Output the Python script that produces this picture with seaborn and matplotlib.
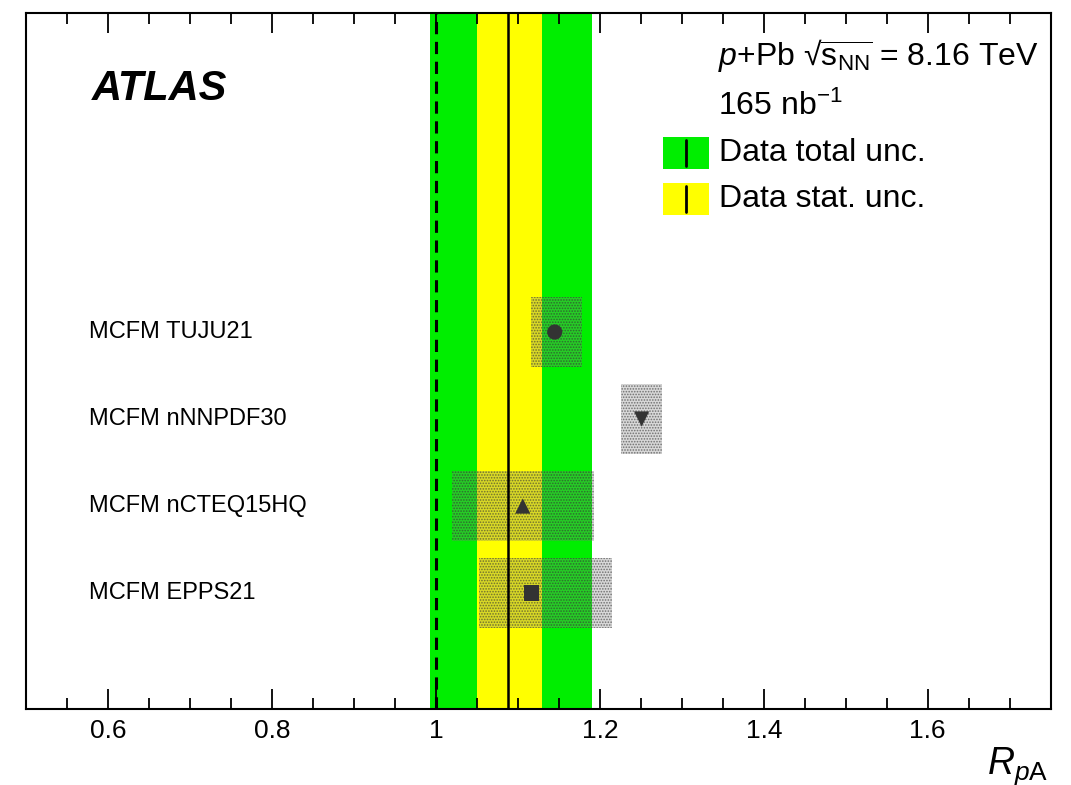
import matplotlib
matplotlib.use("Agg")
import matplotlib.pyplot as plt
from matplotlib.patches import Rectangle
from matplotlib.ticker import MultipleLocator, FixedLocator, FixedFormatter
import seaborn as sns
import pandas as pd

# ---- data ----
models = ["MCFM TUJU21", "MCFM nNNPDF30", "MCFM nCTEQ15HQ", "MCFM EPPS21"]
model_values = [1.145, 1.251, 1.106, 1.117]
model_low = [1.116, 1.226, 1.0195, 1.052]
model_high = [1.178, 1.276, 1.193, 1.215]
model_markers = ["o", "v", "^", "s"]
row_pos = [4, 3, 2, 1]

data_value = 1.088
data_stat = [1.050, 1.129]
data_total = [0.993, 1.191]
reference_value = 1.0

xtick_values = [0.6, 0.8, 1.0, 1.2, 1.4, 1.6]
xtick_labels = ["0.6", "0.8", "1", "1.2", "1.4", "1.6"]

# ---- style ----
sns.set_style("ticks")
plt.rcParams["font.family"] = ["Liberation Sans", "DejaVu Sans"]
plt.rcParams["mathtext.fontset"] = "custom"
plt.rcParams["mathtext.rm"] = "Liberation Sans"
plt.rcParams["mathtext.it"] = "Liberation Sans:italic"
plt.rcParams["mathtext.bf"] = "Liberation Sans:bold"
plt.rcParams["hatch.linewidth"] = 0.8
plt.rcParams["text.color"] = "black"
plt.rcParams["xtick.color"] = "black"
plt.rcParams["xtick.labelcolor"] = "black"

fig = plt.figure(figsize=(10.71, 7.85), dpi=100)
ax = fig.add_axes([0.0243, 0.0968, 0.9567, 0.8866])

GREEN = "#00ee00"
YELLOW = "#ffff00"

ax.axvspan(data_total[0], data_total[1], color=GREEN, lw=0, zorder=0)
ax.axvspan(data_stat[0], data_stat[1], color=YELLOW, lw=0, zorder=0.5)

# theory boxes
for lo, hi, y in zip(model_low, model_high, row_pos):
    ax.add_patch(Rectangle((lo, y - 0.4), hi - lo, 0.8,
                           facecolor=(0.5, 0.5, 0.5, 0.3),
                           edgecolor=(0.2, 0.2, 0.2, 0.6),
                           hatch="......", lw=0, zorder=2))

ax.axvline(data_value, color="black", lw=1.8, zorder=3)
ax.axvline(reference_value, color="black", lw=2.2, ls=(0, (4, 2.5)), zorder=3)

df = pd.DataFrame({"model": models, "value": model_values, "y": row_pos})
sns.scatterplot(data=df, x="value", y="y", style="model",
                markers=dict(zip(models, model_markers)),
                color="#333333", s=120, linewidth=0, legend=False,
                zorder=4, ax=ax)

for name, y in zip(models, row_pos):
    ax.text(0.0615, y, name, transform=ax.get_yaxis_transform(),
            ha="left", va="center", fontsize=17, color="black")

ax.set_xlim(0.5, 1.75)
ax.set_ylim(-1 / 3, 23 / 3)
ax.xaxis.set_major_locator(FixedLocator(xtick_values))
ax.xaxis.set_major_formatter(FixedFormatter(xtick_labels))
ax.xaxis.set_minor_locator(MultipleLocator(0.05))
ax.tick_params(axis="x", which="both", direction="in", top=True,
               bottom=True, width=1.3, labelsize=19, pad=7,
               colors="black")
ax.tick_params(axis="x", which="major", length=14.5)
ax.tick_params(axis="x", which="minor", length=8)
ax.set_yticks([])
ax.set_xlabel("")
ax.set_ylabel("")
for sp in ax.spines.values():
    sp.set_linewidth(1.5)
    sp.set_color("black")

ax.text(0.0644, 0.875, "ATLAS", transform=ax.transAxes, fontsize=30,
        fontweight="bold", fontstyle="italic", ha="left", va="baseline")
ax.text(0.675, 0.925,
        "$\\mathit{p}$+Pb \u221a$\\overline{\\mathrm{s}_{\\mathrm{NN}}}$ = 8.16 TeV",
        transform=ax.transAxes, fontsize=23, ha="left", va="baseline")
ax.text(0.675, 0.853, r"165 nb$^{\mathrm{-1}}$", transform=ax.transAxes,
        fontsize=23, ha="left", va="baseline")

# legend boxes
for col, y0, label in [(GREEN, 0.7759, "Data total unc."),
                       (YELLOW, 0.7098, "Data stat. unc.")]:
    ax.add_patch(Rectangle((0.6218, y0), 0.0449, 0.046, transform=ax.transAxes,
                           facecolor=col, lw=0, clip_on=False, zorder=5))
    ax.plot([0.644, 0.644], [y0 + 0.004, y0 + 0.042], transform=ax.transAxes,
            color="black", lw=2, zorder=6, clip_on=False)
    ax.text(0.6764, y0 + 0.023, label, transform=ax.transAxes, fontsize=23,
            ha="left", va="center")

fig.text(0.9215, 0.015, r"$\mathit{R}_{\mathit{p}\mathrm{A}}$", fontsize=27,
         ha="left", va="baseline")

fig.savefig("out.png", dpi=100)
